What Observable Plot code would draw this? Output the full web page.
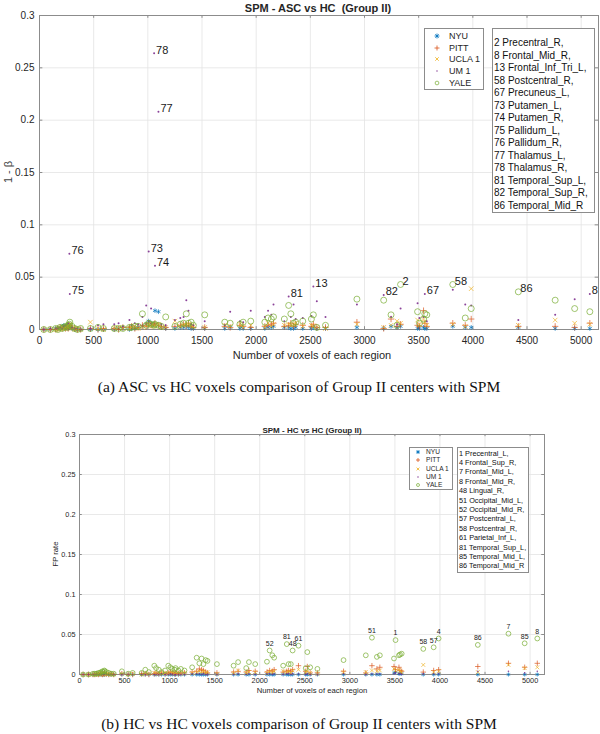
<!DOCTYPE html>
<html><head><meta charset="utf-8">
<script src="https://cdn.jsdelivr.net/npm/d3@7"></script>
<script src="https://cdn.jsdelivr.net/npm/@observablehq/plot@0.6"></script>
<style>
body{margin:0;background:#fff;}
#page{position:relative;width:600px;height:734px;overflow:hidden;font-family:"Liberation Sans",Arial,sans-serif;color:#262626}
.abs{position:absolute;white-space:pre;line-height:1}
.box{position:absolute;border:1px solid #8c8c8c;background:#fff;box-sizing:border-box}
</style></head><body><div id="page"></div>
<script>
// ---------- data ----------
const centers = ["NYU", "PITT", "UCLA 1", "UM 1", "YALE"];
const centerColors = ["#0072BD", "#D95319", "#EDB120", "#7E2F8E", "#77AC30"];
const centerSymbols = ["asterisk", "plus", "times", "dot", "circle"];

const regionIds = [42,41,22,21,27,28,34,35,31,32,76,75,38,37,87,88,39,40,46,33,72,71,47,84,83,26,25,29,73,30,78,74,77,9,15,18,17,10,24,36,45,5,6,43,62,44,70,69,14,52,60,79,80,81,63,64,48,61,66,13,11,12,65,82,51,16,2,23,1,3,67,68,58,57,4,86,7,85,8];
const voxels = [40,100,150,170,190,210,225,240,255,265, 276,280,300,325,350,380,470,540,590,690, 730,770,830,850,880,910,950,985,1008,1030, 1058,1066,1098,1125,1165,1250,1300,1330,1355,1375, 1400,1420,1525,1710,1760,1850,1880,1950,2080,2110, 2140,2160,2260,2300,2320,2345,2365,2430,2510,2528, 2560,2640,2930,3177,3245,3300,3333,3490,3507,3545, 3557,3575,3815,3930,3985,4420,4760,4940,5080];

// (a) ASC vs HC, 1 - beta
const ascNYU = [0,0,0.001,0.001,0.001,0.003,0.004,0.002,0.003,0.001, 0.002,0.003,0.001,0,0,0,0,0,0,0, 0.001,0.001,0,0.001,0.001,0.002,0.003,0.005,0.008,0.006, 0.004,0.018,0.017,0.002,0.001,0.001,0.002,0.002,0.003,0.002, 0.001,0.001,0.001,0.001,0.002,0.001,0.001,0.001,0.001,0.002, 0.002,0.003,0.002,0.002,0.001,0.001,0.002,0.001,0.001,0.002, 0.001,0.001,0.002,0.001,0.003,0.002,0.003,0.001,0.001,0.002, 0.001,0.001,0.003,0.002,0.002,0.002,0.001,0.001,0.001];
const ascPITT = [0,0,0,0.001,0.002,0.001,0.002,0.001,0.002,0.001, 0.003,0.004,0.002,0.001,0,0,0.001,0,0.001,0.001, 0,0.002,0.002,0.003,0.001,0.002,0.004,0.003,0.006,0.004, 0.005,0.006,0.004,0.003,0.002,0.003,0.004,0.005,0.004,0.006, 0.003,0.002,0.002,0.003,0.002,0.004,0.003,0.002,0.003,0.004, 0.005,0.006,0.003,0.004,0.006,0.003,0.005,0.004,0.003,0.005, 0.002,0.002,0.007,0.001,0.010,0.003,0.005,0.004,0.003,0.018, 0.006,0.003,0.006,0.004,0.010,0.003,0.003,0.002,0.006];
const ascUCLA = [0,0,0,0,0.001,0.002,0.001,0.002,0.003,0.002, 0.004,0.005,0.001,0,0.001,0,0.007,0.001,0,0.001, 0.002,0.001,0.001,0.002,0.003,0.001,0.002,0.004,0.005,0.003, 0.003,0.004,0.005,0.002,0.002,0.008,0.003,0.004,0.004,0.005, 0.004,0.003,0.002,0.004,0.003,0.005,0.002,0.004,0.002,0.006, 0.003,0.005,0.004,0.005,0.004,0.005,0.006,0.003,0.004,0.003, 0.002,0.001,0.005,0.002,0.004,0.008,0.006,0.009,0.005,0.010, 0.007,0.004,0.005,0.003,0.039,0.004,0.009,0.006,0.005];
const ascUM = [0,0.001,0.001,0.001,0.002,0.001,0.003,0.004,0.005,0.006, 0.0723,0.034,0.002,0.001,0.001,0,0.001,0.004,0.005,0.005, 0.006,0.003,0.009,0.004,0.006,0.005,0.012,0.023,0.0745,0.020, 0.264,0.061,0.208,0.005,0.004,0.009,0.011,0.012,0.028,0.018, 0.005,0.004,0.008,0.004,0.017,0.008,0.007,0.018,0.012,0.018, 0.014,0.024,0.008,0.0315,0.012,0.024,0.010,0.011,0.013,0.041, 0.027,0.012,0.024,0.033,0.012,0.005,0.020,0.025,0.011,0.012, 0.034,0.008,0.038,0.024,0.023,0.009,0.014,0.029,0.034];
const ascYALE = [0,0,0.001,0,0.002,0.001,0.002,0.003,0.002,0.004, 0.005,0.007,0.003,0.001,0,0.001,0.001,0.002,0.001,0.001, 0.001,0.001,0.002,0.002,0.003,0.003,0.015,0.004,0.006,0.005, 0.004,0.005,0.004,0.003,0.012,0.003,0.005,0.006,0.015,0.006, 0.007,0.004,0.014,0.007,0.006,0.005,0.007,0.008,0.007,0.011, 0.010,0.012,0.010,0.023,0.015,0.006,0.007,0.008,0.010,0.014, 0.002,0.004,0.029,0.028,0.014,0.004,0.043,0.017,0.006,0.010, 0.015,0.014,0.043,0.011,0.020,0.036,0.028,0.020,0.017];

// (b) HC vs HC, FP rate
const hcNYU = [0,0,0,0,0,0,0,0,0,0, 0,0,0,0,0,0,0,0,0,0, 0,0,0,0,0,0,0,0,0,0, 0,0,0,0,0,0,0,0,0,0, 0,0,0,0,0,0,0,0,0,0, 0,0,0,0,0,0,0,0,0,0, 0,0,0,0,0,0,0,0.002,0.003,0.001, 0.001,0.001,0,0,0,0,0,0,0];
const hcPITT = [0,0,0,0,0.001,0,0.001,0.001,0,0.001, 0.001,0.002,0.001,0,0.001,0,0.001,0,0,0.001, 0.001,0,0.001,0.002,0.001,0.002,0.001,0.002,0.003,0.002, 0.001,0.002,0.001,0.002,0.002,0.003,0.004,0.007,0.006,0.005, 0.003,0.002,0.002,0.003,0.004,0.003,0.005,0.004,0.003,0.005, 0.004,0.006,0.003,0.004,0.005,0.004,0.006,0.011,0.004,0.010, 0.002,0.002,0.004,0.002,0.011,0.007,0.009,0.010,0.006,0.009, 0.005,0.004,0.003,0.005,0.006,0.010,0.014,0.009,0.014];
const hcUCLA = [0,0,0,0,0,0.001,0,0.001,0.001,0, 0.001,0.001,0,0.001,0,0,0.001,0,0.001,0, 0.001,0.001,0.002,0.001,0.001,0.002,0.002,0.001,0.002,0.003, 0.001,0.002,0.002,0.001,0.002,0.002,0.003,0.004,0.003,0.004, 0.002,0.003,0.001,0.002,0.005,0.002,0.003,0.003,0.002,0.004, 0.003,0.004,0.004,0.003,0.004,0.002,0.005,0.006,0.003,0.004, 0.002,0.001,0.003,0.003,0.005,0.004,0.005,0.007,0.005,0.006, 0.004,0.003,0.012,0.003,0.004,0.003,0.012,0.008,0.009];
const hcUM = [0,0,0,0,0,0,0,0,0,0, 0,0.001,0,0,0,0,0,0,0,0, 0,0,0,0,0,0.001,0,0,0.001,0, 0,0,0,0,0,0.001,0.001,0.001,0,0.001, 0,0,0,0,0.001,0,0.001,0,0.001,0.001, 0,0.001,0,0.001,0.001,0,0.001,0.001,0,0.001, 0,0,0.001,0,0.001,0.001,0.001,0.001,0.002,0.001, 0.001,0,0.001,0.001,0.001,0.004,0.004,0.002,0.004];
const hcYALE = [0,0,0.001,0.001,0.001,0.002,0.002,0.003,0.004,0.003, 0.005,0.004,0.003,0.002,0.001,0.001,0.004,0.001,0.002,0.002, 0.006,0.003,0.011,0.008,0.006,0.003,0.005,0.011,0.009,0.007, 0.006,0.008,0.005,0.007,0.005,0.009,0.021,0.014,0.020,0.013, 0.018,0.017,0.013,0.011,0.0155,0.008,0.0155,0.013,0.016,0.030, 0.024,0.021,0.011,0.038,0.013,0.013,0.030,0.036,0.008,0.028, 0.009,0.007,0.018,0.024,0.046,0.022,0.024,0.020,0.043,0.024, 0.025,0.026,0.032,0.034,0.045,0.037,0.051,0.039,0.045];

const namesA = ["2 Precentral_R,","8 Frontal_Mid_R,","13 Frontal_Inf_Tri_L,","58 Postcentral_R,","67 Precuneus_L,","73 Putamen_L,","74 Putamen_R,","75 Pallidum_L,","76 Pallidum_R,","77 Thalamus_L,","78 Thalamus_R,","81 Temporal_Sup_L,","82 Temporal_Sup_R,","86 Temporal_Mid_R"];
const namesB = ["1 Precentral_L,","4 Frontal_Sup_R,","7 Frontal_Mid_L,","8 Frontal_Mid_R,","48 Lingual_R,","51 Occipital_Mid_L,","52 Occipital_Mid_R,","57 Postcentral_L,","58 Postcentral_R,","61 Parietal_Inf_L,","81 Temporal_Sup_L,","85 Temporal_Mid_L,","86 Temporal_Mid_R"];

const xTicks = [0,500,1000,1500,2000,2500,3000,3500,4000,4500,5000];
const yTicks = [0,0.05,0.1,0.15,0.2,0.25,0.3];
const xDomain = [0, 5160];
const yDomain = [0, 0.3];

// ---------- helpers ----------
const page = document.getElementById("page");
function addText(txt, x, y, o = {}) {
  const d = document.createElement("div");
  d.className = "abs";
  d.textContent = txt;
  d.style.left = x + "px"; d.style.top = y + "px";
  d.style.fontSize = (o.size || 10) + "px";
  d.style.fontWeight = o.weight || "normal";
  if (o.family) d.style.fontFamily = o.family;
  d.style.color = o.color || "#262626";
  const tx = o.anchor === "start" ? "0" : o.anchor === "end" ? "-100%" : "-50%";
  d.style.transform = `translate(${tx},-50%)` + (o.rotate ? ` rotate(${o.rotate}deg)` : "");
  page.appendChild(d);
  return d;
}
function symbolSvg(kind, color, s) {
  const h = s / 2, w = s + 2;
  let body = "";
  const c = w / 2;
  if (kind === "asterisk") body = `<path d="M${c-h},${c}H${c+h}M${c},${c-h}V${c+h}M${c-h*0.7},${c-h*0.7}L${c+h*0.7},${c+h*0.7}M${c-h*0.7},${c+h*0.7}L${c+h*0.7},${c-h*0.7}" stroke="${color}" stroke-width="0.8"/>`;
  else if (kind === "plus") body = `<path d="M${c-h},${c}H${c+h}M${c},${c-h}V${c+h}" stroke="${color}" stroke-width="0.8"/>`;
  else if (kind === "times") body = `<path d="M${c-h*0.7},${c-h*0.7}L${c+h*0.7},${c+h*0.7}M${c-h*0.7},${c+h*0.7}L${c+h*0.7},${c-h*0.7}" stroke="${color}" stroke-width="0.8"/>`;
  else if (kind === "dot") body = `<circle cx="${c}" cy="${c}" r="${Math.max(0.7, s*0.12)}" fill="${color}"/>`;
  else body = `<circle cx="${c}" cy="${c}" r="${h*0.75}" fill="none" stroke="${color}" stroke-width="0.7"/>`;
  return `<svg width="${w}" height="${w}" style="display:block">${body}</svg>`;
}
function addSymbol(kind, color, s, x, y) {
  const d = document.createElement("div");
  d.className = "abs";
  d.innerHTML = symbolSvg(kind, color, s);
  d.style.left = x + "px"; d.style.top = y + "px";
  d.style.transform = "translate(-50%,-50%)";
  page.appendChild(d);
}
function addBox(x, y, w, h) {
  const d = document.createElement("div");
  d.className = "box";
  Object.assign(d.style, {left: x + "px", top: y + "px", width: w + "px", height: h + "px"});
  page.appendChild(d);
}

function makeChart(cfg) {
  const data = [];
  cfg.series.forEach((vals, s) => vals.forEach((v, i) =>
    data.push({s, center: centers[s], x: voxels[i], y: v, id: regionIds[i]})));
  const labelRows = cfg.labels.map(id => {
    const i = regionIds.indexOf(id);
    return {id, x: voxels[i], y: Math.max(...cfg.series.map(a => a[i]))};
  });
  const tkY = (yDomain[1] - yDomain[0]) * cfg.tickFrac;
  const tkX = (xDomain[1] - xDomain[0]) * cfg.tickFracX;
  const marks = [
    Plot.ruleX(xTicks, {stroke: "#e3e3e3", strokeWidth: 0.8}),
    Plot.ruleY(yTicks, {stroke: "#e3e3e3", strokeWidth: 0.8}),
    Plot.ruleX(xTicks, {y1: yDomain[0], y2: yDomain[0] + tkY, stroke: "#8c8c8c"}),
    Plot.ruleX(xTicks, {y1: yDomain[1], y2: yDomain[1] - tkY, stroke: "#8c8c8c"}),
    Plot.ruleY(yTicks, {x1: xDomain[0], x2: xDomain[0] + tkX, stroke: "#8c8c8c"}),
    Plot.ruleY(yTicks, {x1: xDomain[1], x2: xDomain[1] - tkX, stroke: "#8c8c8c"}),
    Plot.frame({stroke: "#8c8c8c"}),
    Plot.axisX({ticks: xTicks, tickFormat: d => String(d), tickSize: 0, tickPadding: cfg.padX, fontSize: cfg.tickFont, label: null}),
    Plot.axisY({ticks: yTicks, tickFormat: d => String(d), tickSize: 0, tickPadding: cfg.padY, fontSize: cfg.tickFont, label: null})
  ];
  centers.forEach((c, s) => {
    const rows = data.filter(d => d.s === s);
    const sym = centerSymbols[s];
    if (sym === "dot") {
      marks.push(Plot.dot(rows, {x: "x", y: "y", r: cfg.rDot, fill: centerColors[s], fillOpacity: 0.9}));
    } else if (sym === "circle") {
      marks.push(Plot.dot(rows, {x: "x", y: "y", r: cfg.rCircle, stroke: centerColors[s], strokeWidth: 0.7, fill: "none"}));
    } else {
      marks.push(Plot.dot(rows, {x: "x", y: "y", symbol: () => sym, r: cfg.rSym, stroke: centerColors[s], strokeWidth: 0.8, strokeOpacity: 0.85}));
    }
  });
  marks.push(Plot.text(labelRows, {x: "x", y: "y", text: d => String(d.id),
    textAnchor: cfg.labelAnchor, dx: cfg.labelDx, dy: cfg.labelDy, fontSize: cfg.labelFont, fill: "#1a1a1a"}));
  const svg = Plot.plot({
    width: 600, height: cfg.height,
    marginLeft: cfg.ml, marginRight: cfg.mr, marginTop: cfg.mt, marginBottom: cfg.mb,
    x: {domain: xDomain},
    y: {domain: yDomain},
    symbol: {domain: ["asterisk", "plus", "times"], range: ["asterisk", "plus", "times"]},
    style: {fontFamily: "Liberation Sans, Arial, sans-serif", color: "#262626", background: "transparent"},
    marks
  });
  const wrap = document.createElement("div");
  wrap.style.position = "absolute";
  wrap.style.left = "0px"; wrap.style.top = cfg.top + "px";
  wrap.appendChild(svg);
  page.appendChild(wrap);
}

// ---------- chart (a) ----------
makeChart({
  top: 0, height: 365, ml: 39, mr: 2, mt: 15, mb: 36,
  series: [ascNYU, ascPITT, ascUCLA, ascUM, ascYALE],
  labels: namesA.map(n => parseInt(n)),
  tickFont: 10, padX: 7, padY: 5, tickFrac: 0.009, tickFracX: 0.006,
  rSym: 2.2, rDot: 1.0, rCircle: 3,
  labelAnchor: "start", labelDx: 2, labelDy: -3, labelFont: 11
});
addText("SPM - ASC vs HC  (Group II)", 318, 8, {size: 11, weight: "bold"});
addText("1 - \u03b2", 8, 172, {size: 11, rotate: -90, color: "#444"});
addText("Number of voxels of each region", 312, 355, {size: 11});
addText("(a) ASC vs HC voxels comparison of Group II centers with SPM", 299, 387, {size: 15.5, family: "Liberation Serif, serif", color: "#111"});

addBox(424, 28, 60, 62);
centers.forEach((c, s) => {
  const y = 35.7 + s * 11.8;
  addSymbol(centerSymbols[s], centerColors[s], 5, 437, y);
  addText(c, 449, y, {size: 9, anchor: "start"});
});
addBox(492, 28, 103, 185);
namesA.forEach((n, i) => addText(n, 494, 43 + i * 12.5, {size: 10, anchor: "start", color: "#111"}));

// ---------- chart (b) ----------
makeChart({
  top: 405, height: 295, ml: 79, mr: 56, mt: 29, mb: 26,
  series: [hcNYU, hcPITT, hcUCLA, hcUM, hcYALE],
  labels: namesB.map(n => parseInt(n)),
  tickFont: 7.3, padX: 3, padY: 4, tickFrac: 0.009, tickFracX: 0.006,
  rSym: 1.9, rDot: 0.8, rCircle: 2.4,
  labelAnchor: "middle", labelDx: 0, labelDy: -7, labelFont: 7
});
addText("SPM - HC vs HC (Group II)", 312, 431, {size: 8, weight: "bold"});
addText("FP rate", 56, 554, {size: 7.7, rotate: -90});
addText("Number of voxels of each region", 312, 691, {size: 7.7});
addText("(b) HC vs HC voxels comparison of Group II centers with SPM", 299, 724, {size: 15.5, family: "Liberation Serif, serif", color: "#111"});

addBox(409, 447, 44, 43);
centers.forEach((c, s) => {
  const y = 452 + s * 8.3;
  addSymbol(centerSymbols[s], centerColors[s], 4, 418, y);
  addText(c, 426, y, {size: 6.6, anchor: "start"});
});
addBox(457, 447, 72, 126);
namesB.forEach((n, i) => addText(n, 459, 453.5 + i * 9.4, {size: 7.3, anchor: "start", color: "#111"}));
</script></body></html>
